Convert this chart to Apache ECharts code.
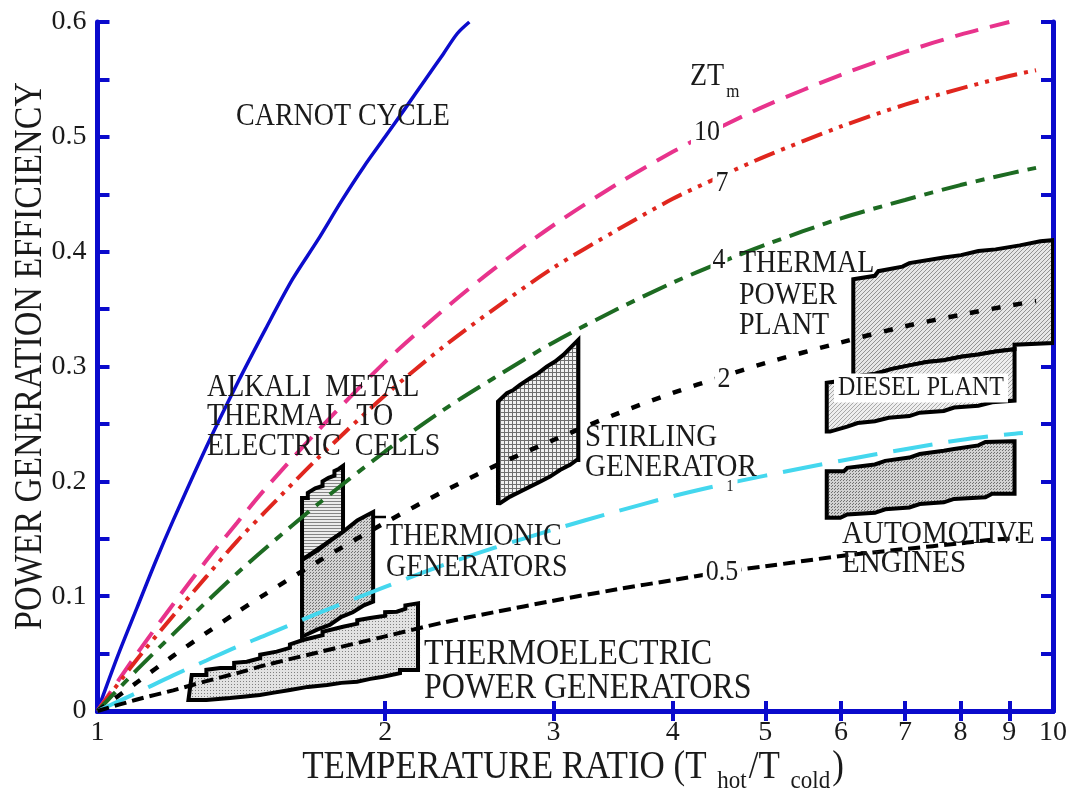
<!DOCTYPE html>
<html><head><meta charset="utf-8">
<script src="https://cdn.jsdelivr.net/npm/echarts@6/dist/echarts.min.js"></script>
<style>html,body{margin:0;padding:0;background:#fff}#c{width:1071px;height:796px}</style>
</head><body><div id="c"></div>
<script>
// ---------- data ----------
const xLabelValues = [1, 2, 3, 4, 5, 6, 7, 8, 9, 10];
const xTickValues = [2, 3, 4, 5, 6, 7, 8, 9];

const carnot = [[1,0],[1.05,0.048],[1.1,0.09],[1.15,0.13],[1.2,0.166],[1.3,0.23],[1.4,0.285],[1.5,0.333],[1.6,0.376],[1.7,0.41],[1.8,0.444],[1.9,0.474],[2,0.5],[2.1,0.525],[2.2,0.549],[2.3,0.572],[2.38,0.59],[2.45,0.6]];
const zt10 = [[1,0],[1.1,0.05],[1.2,0.093],[1.3,0.131],[1.4,0.164],[1.5,0.194],[1.7,0.244],[2,0.304],[2.3,0.349],[2.6,0.385],[3,0.423],[3.5,0.459],[4,0.487],[4.5,0.509],[5,0.527],[6,0.554],[7,0.574],[8,0.589],[9,0.6]];
const zt7 = [[1,0],[1.1,0.045],[1.2,0.083],[1.3,0.117],[1.4,0.148],[1.5,0.174],[1.7,0.22],[2,0.275],[2.3,0.317],[2.6,0.35],[3,0.386],[3.5,0.419],[4,0.446],[4.5,0.466],[5,0.483],[6,0.509],[7,0.528],[8,0.542],[9,0.553],[9.6,0.558]];
const zt4 = [[1,0],[1.1,0.036],[1.2,0.067],[1.3,0.095],[1.4,0.12],[1.5,0.142],[1.7,0.18],[2,0.226],[2.3,0.262],[2.6,0.29],[3,0.321],[3.5,0.35],[4,0.373],[4.5,0.391],[5,0.406],[6,0.429],[7,0.445],[8,0.458],[9,0.468],[9.6,0.473]];
const zt2 = [[1,0],[1.1,0.025],[1.2,0.048],[1.3,0.068],[1.4,0.086],[1.5,0.102],[1.7,0.13],[2,0.164],[2.3,0.191],[2.6,0.213],[3,0.236],[3.5,0.259],[4,0.277],[4.5,0.291],[5,0.303],[6,0.321],[7,0.335],[8,0.345],[9,0.353],[9.6,0.357]];
const zt1 = [[1,0],[1.1,0.016],[1.2,0.031],[1.3,0.044],[1.4,0.056],[1.5,0.066],[1.7,0.085],[2,0.108],[2.3,0.127],[2.6,0.142],[3,0.158],[3.5,0.174],[4,0.187],[4.5,0.197],[5,0.205],[6,0.218],[7,0.228],[8,0.236],[9,0.241],[9.3,0.242]];
const zt05 = [[1,0],[1.1,0.01],[1.2,0.018],[1.3,0.026],[1.4,0.033],[1.5,0.04],[1.7,0.051],[2,0.065],[2.3,0.077],[2.6,0.086],[3,0.096],[3.5,0.106],[4,0.114],[4.5,0.121],[5,0.126],[6,0.135],[7,0.141],[8,0.146],[9,0.15],[9.2,0.15]];

// region outlines (x = T_hot/T_cold, y = efficiency)
const thermoelectric = [[1.245,0.0096],[1.255,0.0314],[1.30,0.0314],[1.30,0.036],[1.344,0.0375],[1.39,0.0375],[1.39,0.042],[1.433,0.0429],[1.48,0.046],[1.48,0.049],[1.54,0.0517],[1.59,0.055],[1.59,0.058],[1.641,0.0618],[1.72,0.066],[1.72,0.069],[1.807,0.0734],[1.87,0.076],[1.87,0.079],[1.929,0.081],[2.0,0.083],[2.0,0.086],[2.057,0.0865],[2.1,0.089],[2.1,0.092],[2.165,0.0938],[2.165,0.0357],[2.073,0.0357],[2.073,0.033],[1.99,0.0299],[1.93,0.028],[1.869,0.0255],[1.80,0.0245],[1.739,0.0226],[1.66,0.021],[1.59,0.0183],[1.53,0.016],[1.479,0.0139],[1.42,0.0125],[1.376,0.0113],[1.30,0.0096]];
const alkali = [[1.637,0.1315],[1.637,0.1855],[1.66,0.1855],[1.66,0.19],[1.69,0.194],[1.72,0.196],[1.72,0.2],[1.745,0.203],[1.77,0.205],[1.77,0.209],[1.79,0.211],[1.807,0.2134],[1.807,0.156]];
const thermionic = [[1.637,0.0647],[1.637,0.1315],[1.70,0.14],[1.75,0.148],[1.807,0.156],[1.87,0.166],[1.91,0.17],[1.943,0.1733],[1.943,0.0952],[1.90,0.092],[1.85,0.086],[1.80,0.082],[1.75,0.075],[1.70,0.071],[1.637,0.0647]];
const stirling = [[2.625,0.181],[2.625,0.2694],[2.682,0.2767],[2.725,0.2796],[2.768,0.284],[2.836,0.2898],[2.893,0.2942],[2.952,0.2999],[3.012,0.3043],[3.073,0.3101],[3.123,0.316],[3.186,0.3232],[3.186,0.2186],[3.174,0.2186],[3.123,0.2143],[3.048,0.2099],[2.976,0.2041],[2.905,0.1997],[2.836,0.1954],[2.768,0.191],[2.703,0.1867],[2.638,0.1809]];
const thermalPlant = [[6.18,0.2889],[6.18,0.376],[6.51,0.379],[6.565,0.383],[6.957,0.387],[7.074,0.39],[7.686,0.395],[8.012,0.397],[8.354,0.4005],[8.708,0.402],[9.231,0.4055],[9.699,0.409],[10,0.41],[10,0.3205],[9.115,0.319],[9.115,0.3151],[8.708,0.313],[8.354,0.3105],[8.012,0.3085],[7.686,0.3055],[7.374,0.3039],[7.074,0.301],[6.786,0.2979],[6.51,0.2935],[6.295,0.2919]];
const dieselPlant = [[5.797,0.2433],[5.797,0.2859],[6.166,0.2889],[6.295,0.2919],[6.51,0.2935],[6.786,0.2979],[7.074,0.301],[7.374,0.3039],[7.686,0.3055],[8.012,0.3085],[8.354,0.3105],[8.708,0.313],[9.115,0.3151],[9.115,0.2703],[8.636,0.2688],[8.354,0.2658],[7.88,0.2643],[7.686,0.2613],[7.253,0.2598],[7.074,0.2568],[6.73,0.2553],[6.51,0.2523],[6.245,0.2508],[6.09,0.2477],[5.844,0.2433]];
const automotive = [[5.797,0.1682],[5.797,0.2087],[6.04,0.2087],[6.09,0.2118],[6.51,0.2147],[6.674,0.2178],[7.074,0.2207],[7.253,0.2238],[7.686,0.2267],[7.88,0.2282],[8.354,0.2313],[8.497,0.2342],[9.077,0.2348],[9.115,0.2348],[9.115,0.1892],[8.636,0.1892],[8.497,0.1862],[7.88,0.1847],[7.686,0.1817],[7.253,0.1802],[7.074,0.1772],[6.674,0.1757],[6.51,0.1726],[6.09,0.1712],[5.99,0.1682]];

// ---------- styling ----------
const FONT = '"Liberation Serif","Times New Roman",serif';
const BLUE = '#0a0acc';
const TXT = '#1a1a1a';

function pattern(kind) {
  const c = document.createElement('canvas');
  const g = c.getContext('2d');
  if (kind === 'dots') { c.width = 3; c.height = 3; g.fillStyle = '#e2e2e2'; g.fillRect(0,0,3,3); g.fillStyle = '#808080'; g.fillRect(0,0,1,1); }
  else if (kind === 'dots2') { c.width = 3; c.height = 3; g.fillStyle = '#d2d2d2'; g.fillRect(0,0,3,3); g.fillStyle = '#707070'; g.fillRect(0,0,1,1); g.fillRect(1,2,1,1); }
  else if (kind === 'hlines') { c.width = 4; c.height = 3; g.fillStyle = '#ececec'; g.fillRect(0,0,4,3); g.fillStyle = '#858585'; g.fillRect(0,0,4,1); }
  else if (kind === 'grid') { c.width = 4; c.height = 4; g.fillStyle = '#f0f0f0'; g.fillRect(0,0,4,4); g.fillStyle = '#6e6e6e'; g.fillRect(0,0,4,1); g.fillRect(0,0,1,4); }
  else if (kind === 'diag') { c.width = 4; c.height = 4; g.fillStyle = '#e6e6e6'; g.fillRect(0,0,4,4); g.fillStyle = '#929292'; for (let i=0;i<4;i++) g.fillRect(i,3-i,1,1); }
  else if (kind === 'diag2') { c.width = 4; c.height = 4; g.fillStyle = '#eeeeee'; g.fillRect(0,0,4,4); g.fillStyle = '#a8a8a8'; for (let i=0;i<4;i++) g.fillRect(i,3-i,1,1); }
  return { image: c, repeat: 'repeat' };
}

function region(name, verts, fill) {
  return {
    type: 'custom', name: name, xAxisIndex: 0, yAxisIndex: 0, z: 1, silent: true, clip: true,
    data: [verts[0]],
    renderItem: function (params, api) {
      return {
        type: 'polygon',
        shape: { points: verts.map(function (v) { return api.coord(v); }) },
        style: { fill: fill, stroke: '#000', lineWidth: 4, lineJoin: 'miter' }
      };
    }
  };
}

function curve(name, data, color, dash, width) {
  return {
    type: 'line', name: name, data: data, xAxisIndex: 0, yAxisIndex: 0, z: 3,
    showSymbol: false, smooth: 0.3, silent: true, clip: true,
    lineStyle: { color: color, width: width || 4, type: dash, cap: 'butt' }
  };
}

function txt(text, x, y, size, opts) {
  opts = opts || {};
  return {
    type: 'text', x: x, y: y, z: 50, scaleY: opts.sy || 1.12,
    style: Object.assign({
      text: text, fill: TXT, font: size + 'px ' + FONT,
      align: opts.align || 'left', verticalAlign: 'middle'
    }, opts.style || {})
  };
}

const axisLineStyle = { color: BLUE, width: 5 };
const tickStyle = { color: BLUE, width: 4 };

const chart = echarts.init(document.getElementById('c'), null, { renderer: 'canvas' });
const option = {
  animation: false,
  backgroundColor: '#ffffff',
  grid: { left: 97.5, right: 18, top: 22, bottom: 85 },
  xAxis: [
    {
      type: 'log', logBase: 10, min: 1, max: 10, position: 'bottom',
      axisLine: { show: true, lineStyle: axisLineStyle },
      axisTick: { show: true, inside: true, length: 10, lineStyle: tickStyle, customValues: xTickValues },
      minorTick: { show: false },
      axisLabel: { show: true, customValues: xLabelValues, fontFamily: FONT, fontSize: 28, color: TXT, margin: 8,
        formatter: function (v) { return String(Math.round(v)); } },
      splitLine: { show: false }
    },
    {
      type: 'log', logBase: 10, min: 1, max: 10, position: 'top',
      axisLine: { show: true, lineStyle: axisLineStyle },
      axisTick: { show: true, inside: true, length: 10, lineStyle: tickStyle, customValues: xTickValues },
      minorTick: { show: false },
      axisLabel: { show: false },
      splitLine: { show: false }
    }
  ],
  yAxis: [
    {
      type: 'value', min: 0, max: 0.6, interval: 0.1, position: 'left',
      axisLine: { show: true, lineStyle: axisLineStyle },
      axisTick: { show: true, inside: true, length: 12, lineStyle: tickStyle },
      minorTick: { show: true, splitNumber: 2, length: 12, lineStyle: tickStyle },
      axisLabel: { fontFamily: FONT, fontSize: 28, color: TXT, margin: 11,
        formatter: function (v) { return v === 0 ? '0' : v.toFixed(1); } },
      splitLine: { show: false }, minorSplitLine: { show: false }
    },
    {
      type: 'value', min: 0, max: 0.6, interval: 0.1, position: 'right',
      axisLine: { show: true, lineStyle: axisLineStyle },
      axisTick: { show: true, inside: true, length: 12, lineStyle: tickStyle },
      minorTick: { show: true, splitNumber: 2, length: 12, lineStyle: tickStyle },
      axisLabel: { show: false },
      splitLine: { show: false }, minorSplitLine: { show: false }
    }
  ],
  series: [
    region('Thermoelectric', thermoelectric, pattern('dots')),
    region('Alkali', alkali, pattern('hlines')),
    region('Thermionic', thermionic, pattern('dots2')),
    region('Stirling', stirling, pattern('grid')),
    region('Thermal plant', thermalPlant, pattern('diag')),
    region('Diesel plant', dieselPlant, pattern('diag2')),
    region('Automotive', automotive, pattern('dots2')),
    curve('Carnot', carnot, '#0c0ccc', 'solid', 3.5),
    curve('ZT 10', zt10, '#e8338c', [24, 12], 4),
    curve('ZT 7', zt7, '#e0261e', [22, 7, 4, 7, 4, 7], 4),
    curve('ZT 4', zt4, '#1d6b22', [26, 9, 9, 9], 4),
    curve('ZT 2', zt2, '#000000', [9, 13], 4.5),
    curve('ZT 1', zt1, '#44d7ee', [40, 16], 4),
    curve('ZT 0.5', zt05, '#000000', [12, 6], 4)
  ],
  graphic: [
    { type: 'line', z: 40, shape: { x1: 372, y1: 517, x2: 386, y2: 517 }, style: { stroke: '#000', lineWidth: 2.5 } },
    txt('CARNOT CYCLE', 236, 117, 28),
    { type: 'text', x: 690, y: 77, z: 50, scaleY: 1.12, style: { text: '{a|ZT}{b|m}', font: '28px ' + FONT, fill: TXT, verticalAlign: 'middle',
      rich: { a: { fontFamily: FONT, fontSize: 28, fill: TXT }, b: { fontFamily: FONT, fontSize: 17, fill: TXT, padding: [26, 0, 0, 2] } } } },
    txt('10', 707, 132, 26, { align: 'center', style: { backgroundColor: '#fff', padding: [0, 3] } }),
    txt('7', 722, 183, 26, { align: 'center', style: { backgroundColor: '#fff', padding: [0, 3] } }),
    txt('4', 719, 260, 26, { align: 'center', style: { backgroundColor: '#fff', padding: [0, 2] } }),
    txt('2', 724, 379, 26, { align: 'center', style: { backgroundColor: '#fff', padding: [0, 3] } }),
    txt('1', 730, 487, 14, { align: 'center', style: { backgroundColor: '#fff', padding: [0, 4] } }),
    txt('0.5', 722, 572, 26, { align: 'center', style: { backgroundColor: '#fff', padding: [0, 3] } }),
    txt('ALKALI  METAL', 207, 388, 28),
    txt('THERMAL  TO', 207, 417, 28),
    txt('ELECTRIC  CELLS', 207, 447, 28),
    txt('THERMIONIC', 386, 537, 28),
    txt('GENERATORS', 386, 568, 28),
    txt('THERMOELECTRIC', 424, 655, 32),
    txt('POWER GENERATORS', 424, 689, 32),
    txt('STIRLING', 585, 437, 29),
    txt('GENERATOR', 585, 467, 29),
    txt('THERMAL', 739, 264, 28),
    txt('POWER', 739, 296, 28),
    txt('PLANT', 739, 326, 28),
    txt('DIESEL PLANT', 921, 388, 24, { align: 'center', style: { backgroundColor: '#fff', padding: [1, 4] } }),
    txt('AUTOMOTIVE', 842, 534, 29),
    txt('ENGINES', 842, 563, 29),
    // axis titles
    { type: 'text', x: 31, y: 356, rotation: Math.PI / 2, z: 50, scaleY: 1.15,
      style: { text: 'POWER GENERATION EFFICIENCY', font: '34px ' + FONT, fill: TXT, align: 'center', verticalAlign: 'middle' } },
    { type: 'text', x: 573, y: 768, z: 50, scaleY: 1.12,
      style: { text: '{a|TEMPERATURE RATIO (T }{s|hot}{a|/T }{s|cold}{a|)}', align: 'center', verticalAlign: 'middle',
        rich: { a: { fontFamily: FONT, fontSize: 35, fill: TXT }, s: { fontFamily: FONT, fontSize: 23, fill: TXT, padding: [23, 2, 0, 2] } } } }
  ]
};
chart.setOption(option);
</script>
</body></html>
